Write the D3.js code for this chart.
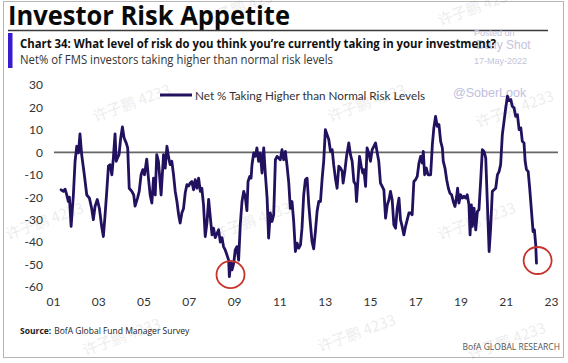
<!DOCTYPE html>
<html><head><meta charset="utf-8">
<script src="https://cdn.jsdelivr.net/npm/d3@7"></script>
<style>
html,body{margin:0;padding:0;background:#fff;}
svg{display:block;}
</style></head>
<body>
<svg id="c" width="568" height="363"></svg>
<script>
// ---- data (months since Jan 2001, value) ----
const months = [4.3,5.5,6.4,7.3,8.1,8.7,9.6,10.8,11.7,12.6,13.5,14.3,15.2,16.6,17.9,19.3,20.5,21.4,22.3,23.5,24.6,25.8,26.7,27.6,28.5,29.4,30.3,31.2,32.0,32.9,33.5,34.2,35.0,35.9,36.8,37.7,38.8,39.6,40.4,41.8,42.8,43.5,44.8,45.7,46.7,47.6,48.5,49.7,50.6,51.5,52.4,53.3,54.2,55.0,55.9,57.3,58.6,59.5,60.4,61.2,62.1,63.0,63.9,64.8,65.7,66.6,67.4,68.3,69.2,70.1,71.0,71.9,72.7,73.6,74.5,75.4,76.3,77.2,78.1,78.9,79.8,80.7,81.6,82.5,83.4,84.3,85.1,86.0,87.8,88.7,89.6,90.4,91.3,92.2,93.1,93.5,94.2,94.9,95.8,96.6,97.5,98.4,99.3,100.2,101.1,101.9,102.8,103.4,104.3,105.0,105.5,106.4,107.3,108.1,109.0,109.9,110.8,111.7,112.6,113.5,114.3,115.2,116.1,117.0,117.9,118.8,119.6,120.5,121.4,122.3,123.2,124.1,125.0,125.8,126.7,127.6,128.5,129.4,130.3,131.2,132.0,132.9,133.8,134.7,135.6,136.5,137.3,138.2,139.1,140.0,140.9,141.8,142.7,143.5,144.4,145.3,146.2,147.1,148.0,148.8,149.7,150.6,151.5,152.4,153.3,153.8,154.7,155.6,156.8,157.7,158.6,159.5,160.4,160.9,161.6,162.5,163.4,164.2,164.8,165.7,166.5,167.4,168.3,169.2,170.1,171.0,171.9,172.7,173.6,174.5,175.4,176.3,177.2,178.1,178.9,179.8,180.7,181.6,182.5,183.4,184.2,185.1,186.0,186.9,187.8,188.7,189.6,190.4,191.3,192.2,193.1,194.0,194.9,195.8,196.3,197.0,197.9,198.8,200.2,201.1,201.9,202.8,203.7,204.6,205.5,206.4,206.9,207.8,208.7,209.6,210.4,211.3,212.2,213.1,214.0,214.5,215.2,216.1,217.0,217.9,218.8,219.6,220.5,221.1,221.8,222.3,223.2,224.1,225.0,225.8,226.7,227.6,228.5,229.4,230.3,231.2,232.0,232.9,233.8,234.7,235.6,236.5,237.3,238.2,239.1,240.0,240.9,241.8,242.7,243.5,244.4,245.3,246.2,247.1,248.0,248.8,249.7,250.3,251.0,251.9,252.7,253.6,254.5,255.2,255.9,256.3];
const values = [-16.7,-17.4,-16.4,-19,-21.9,-20,-33,-19,-4,2.7,-0.3,8.2,-1,-10,-19,-20.4,-25,-30,-24,-21,-25,-33,-37.5,-28,-17.4,-6,-5.5,-10,-2.5,8.2,-4,-2.5,-1,6.4,11.3,6.4,4.2,2,-16,-17.4,-19,-24,-20.4,-17.4,-10,-7.7,-10,-3,-11.5,-19,-22.6,-11.5,-19,-1,-4,-19,-1,-7,2.7,-1.8,-5.5,-4,-10,-17.4,-21.9,-27.8,-31.5,-27,-25,-18,-14.4,-15,-13.7,-13,-16.7,-12.2,-16,-11.5,-17.4,-16,-23.4,-37.5,-31.5,-21,-29,-36.8,-33.8,-38,-34.5,-40,-38,-42,-43.5,-45.7,-48,-55.4,-48.7,-52.4,-49.4,-43.5,-42,-48,-32,-21.9,-17.4,-19.6,-26,-13,-10.7,-11.5,-5.5,-0.3,-1.8,2,-4,-0.3,-9.2,2,-10,-20.4,-38.2,-27,-30.8,-27.8,-3.3,-1.8,-2.5,-3.3,1.2,-3.3,0.4,-6.2,-13.7,-25,-21.9,-30.8,-44.2,-40.5,-42.7,-41.2,-33.8,-19,-12.2,-11.5,-23.4,-32.3,-39.7,-43,-35.3,-26.3,-21.9,-21.9,-11.5,-4,10.1,7.9,5.7,0.4,1.2,-5.5,-11.5,-16,-6.2,-7,-8.5,-13.7,-8.5,-1.8,4.2,-1,-4,-13,-14.4,-21.9,-13,-1.8,-6.2,-9.2,-7.7,-15.2,2,-0.3,-4,1.2,2.7,4.2,-0.3,-4,-13.7,-15.2,-16.7,-29.3,-23.4,-21.1,-17.4,-21.1,-32.3,-33.8,-24.9,-20.4,-30,-33,-36.8,-33,-30,-27,-27,-27.8,-13,-12.2,-10.7,-4.8,-1.8,-4.8,0.4,-10,-7,-10,-10,3.4,10.9,16,11.6,12.4,4.9,2,-4,-7,-12.2,-16,-18.2,-18.9,-21.9,-24.1,-19.6,-16,-22.6,-18.9,-20.4,-19.6,-20.4,-18.9,-23.4,-36.8,-23.4,-33,-24.9,-34.5,-26.3,-25.6,-13,1.2,0.4,-2.5,-23.4,-44.2,-33.8,-17.4,-16.7,-16,-10,-8.5,-5.5,7.9,13.8,19.8,25,23,23.5,20.5,19.8,16,16.8,10.1,10.9,4.9,4.2,-4,-7.7,-8.5,-16,-25.6,-35.3,-34.5,-41.2,-49.4];
const xTickMonths = [0,24,48,72,96,120,144,168,192,216,240,264];
const xTickLabels = ["01","03","05","07","09","11","13","15","17","19","21","23"];
const yTicks = [30,20,10,0,-10,-20,-30,-40,-50,-60];
const highlights = [{m:94.1, v:-54.5},{m:256.9, v:-48.2}];
const seriesName = "Net % Taking Higher than Normal Risk Levels";

const svg = d3.select("#c");
const LINE = "#22115e";
const FONT = "Lato, 'Open Sans', sans-serif";

// outer border
svg.append("rect").attr("x",3.5).attr("y",1.5).attr("width",560).attr("height",356)
  .attr("fill","none").attr("stroke","#b5b5b5").attr("stroke-width",1);

// watermarks (faint)
const wm = [[205,26],[440,26],[95,122],[330,122],[478,128],[8,240],[215,240],[440,240],[85,356],[320,352],[470,360]];
wm.forEach(([x,y])=>{
  svg.append("text").attr("x",x).attr("y",y).attr("transform",`rotate(-20,${x},${y})`)
    .attr("font-family","'Noto Sans CJK SC', sans-serif").attr("font-size",15)
    .attr("fill","#000").attr("opacity",0.07).text("许子鹏 4233");
});

// title
svg.append("text").attr("x",8).attr("y",25).attr("font-family","'Open Sans', sans-serif")
  .attr("font-weight",700).attr("font-size",27).attr("fill","#0a0a0a")
  .attr("textLength",282).attr("lengthAdjust","spacingAndGlyphs").text("Investor Risk Appetite");
svg.append("line").attr("x1",8).attr("x2",548).attr("y1",30.5).attr("y2",30.5)
  .attr("stroke","#3a3a3a").attr("stroke-width",1.5);

// daily shot watermark text
svg.append("text").attr("x",474).attr("y",36).attr("font-family","Arial, 'Liberation Sans', sans-serif")
  .attr("font-size",9).attr("fill","#c4c4dc").text("Posted on");
svg.append("text").attr("x",476).attr("y",49).attr("font-family","Arial, 'Liberation Sans', sans-serif")
  .attr("font-size",12).attr("fill","#c4c4dc").text("Daily Shot");
svg.append("text").attr("x",474).attr("y",64).attr("font-family","Arial, 'Liberation Sans', sans-serif")
  .attr("font-size",9).attr("fill","#c4c4dc").text("17-May-2022");

// subtitle block
svg.append("rect").attr("x",8).attr("y",33).attr("width",4.5).attr("height",35).attr("fill","#3b1bd0");
svg.append("text").attr("x",20).attr("y",48).attr("font-family","'Open Sans', sans-serif")
  .attr("font-weight",700).attr("font-size",13).attr("fill","#111")
  .attr("textLength",476).attr("lengthAdjust","spacingAndGlyphs")
  .text("Chart 34: What level of risk do you think you\u2019re currently taking in your investment?");
svg.append("text").attr("x",20).attr("y",64).attr("font-family","'Open Sans', sans-serif")
  .attr("font-size",13).attr("fill","#333")
  .attr("textLength",313).attr("lengthAdjust","spacingAndGlyphs")
  .text("Net% of FMS investors taking higher than normal risk levels");

// scales
const x = d3.scaleLinear().domain([0,264]).range([53,551]);
const y = d3.scaleLinear().domain([-60,30]).range([287,85]);

// @SoberLook
svg.append("text").attr("x",453).attr("y",97).attr("font-family","Arial, 'Liberation Sans', sans-serif")
  .attr("font-size",12.5).attr("fill","#c0c0de").text("@SoberLook");

// y axis labels
const gy = svg.append("g").attr("transform","translate(53,0)")
  .call(d3.axisLeft(y).tickValues(yTicks).tickSize(0).tickPadding(10).tickFormat(d=>String(d)));
gy.select(".domain").remove();
gy.selectAll("text").attr("font-family",FONT).attr("font-size",12).attr("fill","#333");

// x axis labels
const gx = svg.append("g").attr("transform","translate(0,287)")
  .call(d3.axisBottom(x).tickValues(xTickMonths).tickSize(0).tickPadding(10)
    .tickFormat((d,i)=>xTickLabels[i]));
gx.select(".domain").remove();
gx.selectAll("text").attr("font-family",FONT).attr("font-size",12).attr("fill","#333");

// zero line
svg.append("line").attr("x1",54).attr("x2",558).attr("y1",y(0)).attr("y2",y(0))
  .attr("stroke","#666").attr("stroke-width",1.6);

// series line
const data = months.map((m,i)=>({m, v: values[i]}));
svg.append("path").datum(data)
  .attr("fill","none").attr("stroke",LINE).attr("stroke-width",2.8)
  .attr("stroke-linejoin","round").attr("stroke-linecap","round")
  .attr("d", d3.line().x(d=>x(d.m)).y(d=>y(d.v)));

// highlight circles
svg.selectAll("ellipse.hl").data(highlights).enter().append("ellipse")
  .attr("cx",d=>x(d.m)).attr("cy",d=>y(d.v)).attr("rx",14).attr("ry",13.5)
  .attr("fill","none").attr("stroke","#c8342c").attr("stroke-width",1.8);

// legend
svg.append("line").attr("x1",160).attr("x2",192).attr("y1",95).attr("y2",95)
  .attr("stroke",LINE).attr("stroke-width",3);
svg.append("text").attr("x",195).attr("y",99.5).attr("font-family",FONT)
  .attr("font-size",12).attr("fill","#333")
  .attr("textLength",230).attr("lengthAdjust","spacingAndGlyphs").text(seriesName);

// source
const src = svg.append("text").attr("x",20).attr("y",334).attr("font-family","'Open Sans', sans-serif")
  .attr("font-size",8.5).attr("fill","#222");
src.append("tspan").attr("font-weight",700).text("Source:");
src.append("tspan").attr("dx",3).text("BofA Global Fund Manager Survey");
svg.append("text").attr("x",560).attr("y",350).attr("text-anchor","end")
  .attr("font-family","'Open Sans', sans-serif").attr("font-size",8.5).attr("fill","#555")
  .text("BofA GLOBAL RESEARCH");
</script>
</body></html>
